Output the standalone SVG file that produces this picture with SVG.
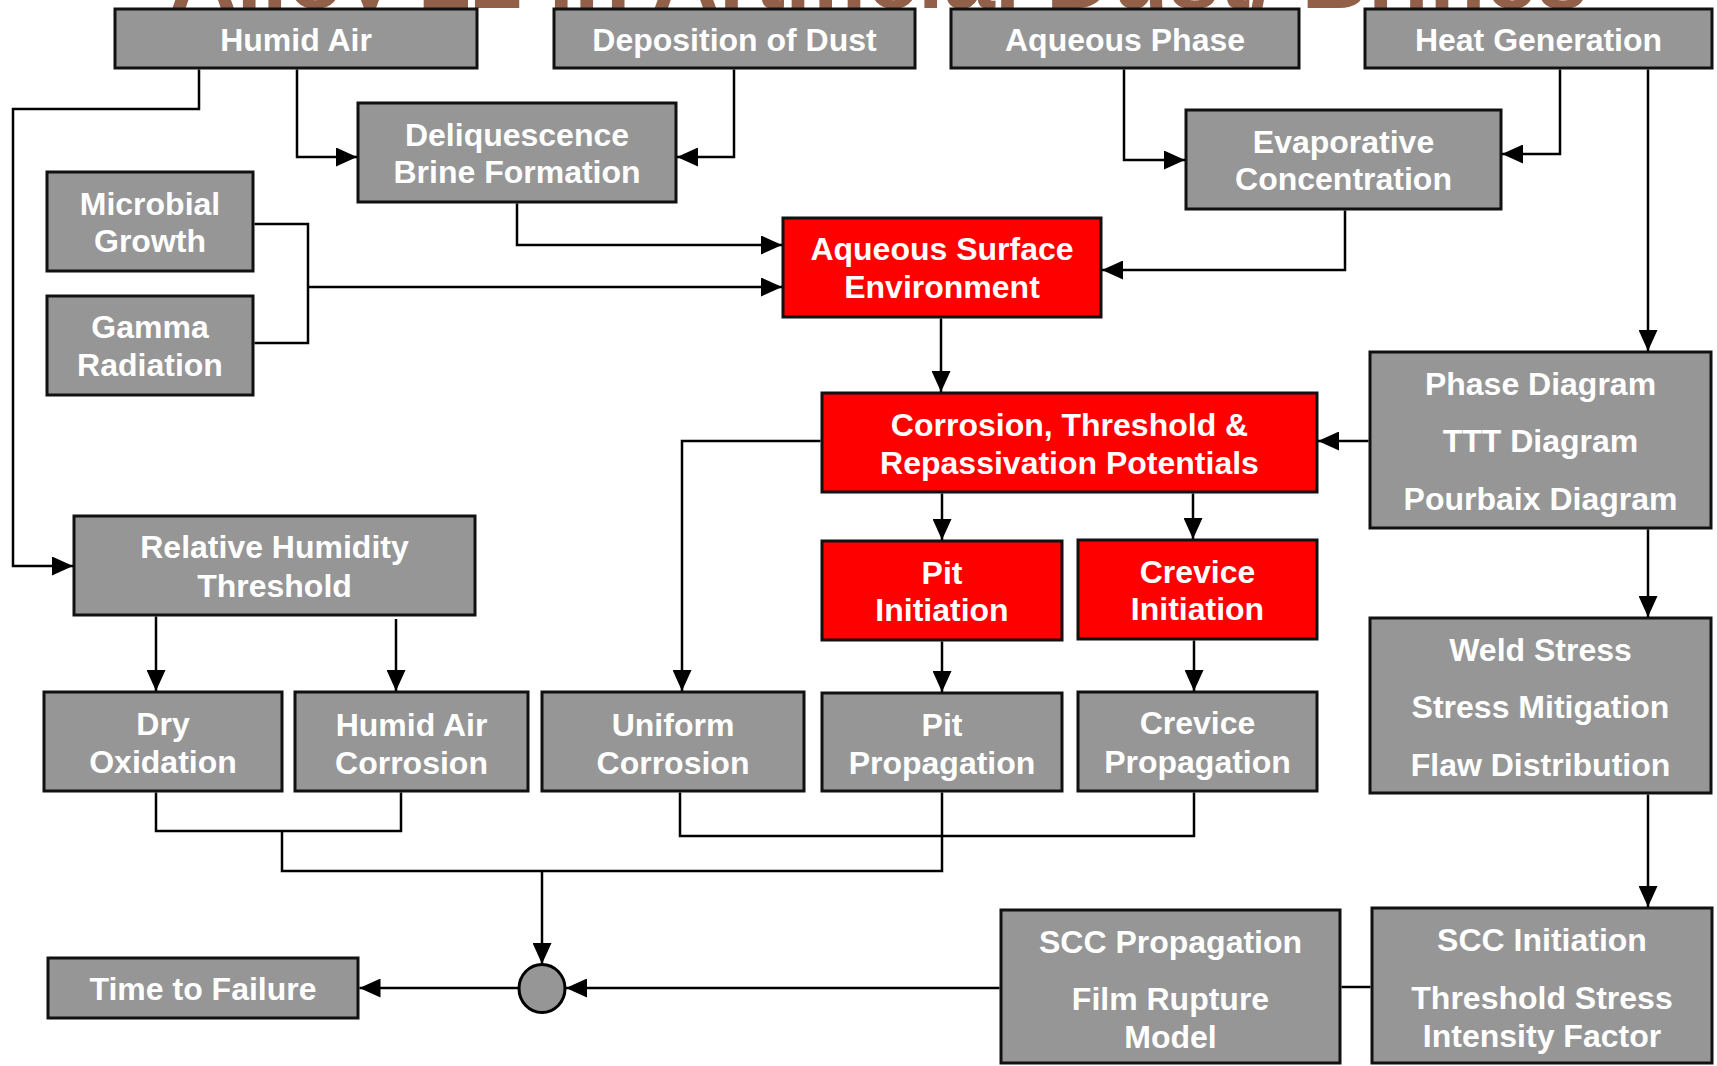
<svg xmlns="http://www.w3.org/2000/svg" width="1717" height="1066" viewBox="0 0 1717 1066">
  <defs>
    <marker id="arrow" markerUnits="userSpaceOnUse" markerWidth="21" markerHeight="19" refX="21" refY="9.5" orient="auto">
      <path d="M0,0 L21,9.5 L0,19 Z" fill="#000"/>
    </marker>
    <style>
      .box { fill: #969696; stroke: #111; stroke-width: 3; }
      .hot { fill: #ff0000; stroke: #111; stroke-width: 3; }
      .lbl { font-family: "Liberation Sans", Arial, sans-serif; font-weight: bold; font-size: 32px; fill: #fff; text-anchor: middle; }
      .wire { fill: none; stroke: #000; stroke-width: 2.5; }
      .arr { marker-end: url(#arrow); }
      .title { font-family: "Liberation Sans", Arial, sans-serif; font-weight: bold; font-size: 92px; fill: #925f48; }
    </style>
  </defs>

  <rect width="1717" height="1066" fill="#fff"/>

  <!-- slide heading, mostly hidden behind the top row -->
  <text class="title" x="170" y="8">Alloy 22 in Artificial Dust/ Brines</text>

  <!-- nodes -->
  <g id="humid-air">
    <rect class="box" x="115" y="9" width="362" height="59"/>
    <text class="lbl" x="296" y="51">Humid Air</text>
  </g>
  <g id="deposition-of-dust">
    <rect class="box" x="554" y="9" width="361" height="59"/>
    <text class="lbl" x="734.5" y="51">Deposition of Dust</text>
  </g>
  <g id="aqueous-phase">
    <rect class="box" x="951" y="9" width="348" height="59"/>
    <text class="lbl" x="1125" y="51">Aqueous Phase</text>
  </g>
  <g id="heat-generation">
    <rect class="box" x="1365" y="9" width="347" height="59"/>
    <text class="lbl" x="1538.5" y="51">Heat Generation</text>
  </g>
  <g id="deliquescence">
    <rect class="box" x="358" y="103" width="318" height="99"/>
    <text class="lbl" x="517" y="146">Deliquescence</text>
    <text class="lbl" x="517" y="183">Brine Formation</text>
  </g>
  <g id="evaporative-concentration">
    <rect class="box" x="1186" y="110" width="315" height="99"/>
    <text class="lbl" x="1343.5" y="153">Evaporative</text>
    <text class="lbl" x="1343.5" y="190">Concentration</text>
  </g>
  <g id="microbial-growth">
    <rect class="box" x="47" y="172" width="206" height="99"/>
    <text class="lbl" x="150" y="215">Microbial</text>
    <text class="lbl" x="150" y="252">Growth</text>
  </g>
  <g id="gamma-radiation">
    <rect class="box" x="47" y="296" width="206" height="99"/>
    <text class="lbl" x="150" y="338">Gamma</text>
    <text class="lbl" x="150" y="376">Radiation</text>
  </g>
  <g id="aqueous-surface-environment">
    <rect class="hot" x="783" y="218" width="318" height="99"/>
    <text class="lbl" x="942" y="260">Aqueous Surface</text>
    <text class="lbl" x="942" y="298">Environment</text>
  </g>
  <g id="potentials">
    <rect class="hot" x="822" y="393" width="495" height="99"/>
    <text class="lbl" x="1069.5" y="436">Corrosion, Threshold &amp;</text>
    <text class="lbl" x="1069.5" y="474">Repassivation Potentials</text>
  </g>
  <g id="diagrams">
    <rect class="box" x="1370" y="352" width="341" height="176"/>
    <text class="lbl" x="1540.5" y="395">Phase Diagram</text>
    <text class="lbl" x="1540.5" y="452">TTT Diagram</text>
    <text class="lbl" x="1540.5" y="510">Pourbaix Diagram</text>
  </g>
  <g id="rh-threshold">
    <rect class="box" x="74" y="516" width="401" height="99"/>
    <text class="lbl" x="274.5" y="558">Relative Humidity</text>
    <text class="lbl" x="274.5" y="597">Threshold</text>
  </g>
  <g id="pit-initiation">
    <rect class="hot" x="822" y="541" width="240" height="99"/>
    <text class="lbl" x="942" y="584">Pit</text>
    <text class="lbl" x="942" y="621">Initiation</text>
  </g>
  <g id="crevice-initiation">
    <rect class="hot" x="1078" y="540" width="239" height="99"/>
    <text class="lbl" x="1197.5" y="583">Crevice</text>
    <text class="lbl" x="1197.5" y="620">Initiation</text>
  </g>
  <g id="stress">
    <rect class="box" x="1370" y="618" width="341" height="175"/>
    <text class="lbl" x="1540.5" y="661">Weld Stress</text>
    <text class="lbl" x="1540.5" y="718">Stress Mitigation</text>
    <text class="lbl" x="1540.5" y="776">Flaw Distribution</text>
  </g>
  <g id="dry-oxidation">
    <rect class="box" x="44" y="692" width="238" height="99"/>
    <text class="lbl" x="163" y="735">Dry</text>
    <text class="lbl" x="163" y="773">Oxidation</text>
  </g>
  <g id="humid-air-corrosion">
    <rect class="box" x="295" y="692" width="233" height="99"/>
    <text class="lbl" x="411.5" y="736">Humid Air</text>
    <text class="lbl" x="411.5" y="774">Corrosion</text>
  </g>
  <g id="uniform-corrosion">
    <rect class="box" x="542" y="692" width="262" height="99"/>
    <text class="lbl" x="673" y="736">Uniform</text>
    <text class="lbl" x="673" y="774">Corrosion</text>
  </g>
  <g id="pit-propagation">
    <rect class="box" x="822" y="693" width="240" height="98"/>
    <text class="lbl" x="942" y="736">Pit</text>
    <text class="lbl" x="942" y="774">Propagation</text>
  </g>
  <g id="crevice-propagation">
    <rect class="box" x="1078" y="692" width="239" height="99"/>
    <text class="lbl" x="1197.5" y="734">Crevice</text>
    <text class="lbl" x="1197.5" y="773">Propagation</text>
  </g>
  <g id="time-to-failure">
    <rect class="box" x="48" y="958" width="310" height="60"/>
    <text class="lbl" x="203" y="1000">Time to Failure</text>
  </g>
  <g id="summation">
    <ellipse cx="542" cy="988.5" rx="23" ry="24" fill="#969696" stroke="#000" stroke-width="3"/>
  </g>
  <g id="scc-propagation">
    <rect class="box" x="1001" y="910" width="339" height="153"/>
    <text class="lbl" x="1170.5" y="953">SCC Propagation</text>
    <text class="lbl" x="1170.5" y="1010">Film Rupture</text>
    <text class="lbl" x="1170.5" y="1048">Model</text>
  </g>
  <g id="scc-initiation">
    <rect class="box" x="1372" y="908" width="340" height="155"/>
    <text class="lbl" x="1542" y="951">SCC Initiation</text>
    <text class="lbl" x="1542" y="1009">Threshold Stress</text>
    <text class="lbl" x="1542" y="1047">Intensity Factor</text>
  </g>

  <!-- connectors -->
  <g id="connectors">
    <path class="wire arr" d="M297,69.5 V157 H357"/>
    <path class="wire arr" d="M199,69.5 V109 H13 V566 H73"/>
    <path class="wire arr" d="M734,69.5 V157 H677"/>
    <path class="wire arr" d="M1124,69.5 V160 H1185"/>
    <path class="wire arr" d="M1560,69.5 V154 H1502"/>
    <path class="wire arr" d="M1648,69.5 V351"/>
    <path class="wire arr" d="M517,203.5 V245 H782"/>
    <path class="wire" d="M254.5,224 H308 V343 H254.5"/>
    <path class="wire arr" d="M308,287 H782"/>
    <path class="wire arr" d="M1345,210.5 V270 H1102"/>
    <path class="wire arr" d="M941,318.5 V392"/>
    <path class="wire arr" d="M1368.5,441 H1318"/>
    <path class="wire arr" d="M820.5,441 H682 V691"/>
    <path class="wire arr" d="M942,493.5 V540"/>
    <path class="wire arr" d="M1193,493.5 V539"/>
    <path class="wire arr" d="M942,641.5 V692"/>
    <path class="wire arr" d="M1194,640.5 V691"/>
    <path class="wire arr" d="M1648,529.5 V617"/>
    <path class="wire arr" d="M1648,794.5 V907"/>
    <path class="wire arr" d="M156,616.5 V691"/>
    <path class="wire arr" d="M396,619 V691"/>
    <path class="wire" d="M156,792.5 V831 H401 V792.5"/>
    <path class="wire" d="M680,792.5 V836 H1194 V792.5"/>
    <path class="wire" d="M942,792.5 V871 H282 V831"/>
    <path class="wire arr" d="M542,871 V964"/>
    <path class="wire arr" d="M999.5,988 H566"/>
    <path class="wire" d="M1341.5,987 H1370.5"/>
    <path class="wire arr" d="M518,988 H359.5"/>
  </g>
</svg>
